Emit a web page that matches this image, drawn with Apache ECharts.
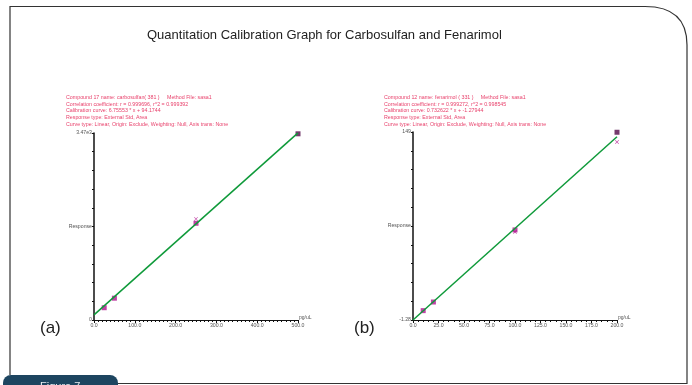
<!DOCTYPE html>
<html>
<head>
<meta charset="utf-8">
<script src="https://cdn.jsdelivr.net/npm/echarts@6/dist/echarts.min.js"></script>
<style>
  html, body { margin: 0; padding: 0; background: #fff; }
  #chart { width: 692px; height: 385px; }
</style>
</head>
<body>
<div id="chart"></div>
<script>
// (a) carbosulfan
const pointsA = [[25, 228], [50, 405], [250, 1795], [500, 3455]];
const excludedA = [[250, 1875]];
const fitA = [[0, 94.2], [500, 3472]];
const infoA = [
  'Compound 17 name: carbosulfan( 381 )     Method File: sasa1',
  'Correlation coefficient: r = 0.999696, r^2 = 0.999392',
  'Calibration curve: 6.75553 * x + 94.1744',
  'Response type: External Std, Area',
  'Curve type: Linear, Origin: Exclude, Weighting: Null, Axis trans: None'
];

// (b) fenarimol
const pointsB = [[10, 6.2], [20, 13.1], [100, 70.7], [200, 148.8]];
const excludedB = [[100, 69.0], [200, 141]];
const fitB = [[0, -1.28], [200, 145.2]];
const infoB = [
  'Compound 12 name: fenarimol ( 331 )     Method File: sasa1',
  'Correlation coefficient: r = 0.999272, r^2 = 0.998545',
  'Calibration curve: 0.732622 * x + -1.27944',
  'Response type: External Std, Area',
  'Curve type: Linear, Origin: Exclude, Weighting: Null, Axis trans: None'
];

const titleText = 'Quantitation Calibration Graph for Carbosulfan and Fenarimol';
const yLabelsA = ['0', 'Response', '3.47e3'];
const yLabelsB = ['-1.28', 'Response', '149'];

const font = '"Liberation Sans", Arial, sans-serif';
const pink = '#e8426c';
const green = '#0f9a3a';
const magenta = '#b0128f';
const dark = '#520a48';
const crossPath = 'path://M0,1 L1,0 L5,4 L9,0 L10,1 L6,5 L10,9 L9,10 L5,6 L1,10 L0,9 L4,5 Z';

function xAxisOpt(gi, max, interval, split) {
  return {
    gridIndex: gi, type: 'value', min: 0, max: max, interval: interval,
    name: 'pg/uL', nameLocation: 'end', nameGap: 1,
    nameTextStyle: { fontSize: 5, color: '#555', fontFamily: font, verticalAlign: 'bottom' },
    axisLine: { lineStyle: { color: '#111', width: 1 } },
    axisTick: { length: 3, lineStyle: { color: '#111', width: 1 } },
    minorTick: { show: true, splitNumber: split, length: 2, lineStyle: { color: '#111', width: 1 } },
    axisLabel: { fontSize: 5.2, color: '#555', fontFamily: font, margin: 3, formatter: v => v.toFixed(1) },
    splitLine: { show: false }
  };
}

function tickAxis(gi, labels) {
  return {
    gridIndex: gi, type: 'value', min: 0, max: 10, interval: 1,
    axisLine: { show: true, lineStyle: { color: '#111', width: 1.5 } },
    axisTick: { show: true, length: 2, lineStyle: { color: '#111', width: 1 } },
    axisLabel: {
      fontSize: 5.2, color: '#555', fontFamily: font, margin: 2,
      formatter: (v) => v === 0 ? labels[0] : v === 5 ? labels[1] : v === 10 ? labels[2] : ''
    },
    splitLine: { show: false }
  };
}

function dataAxis(gi, min, max) {
  return {
    gridIndex: gi, type: 'value', min: min, max: max,
    axisLine: { show: false }, axisTick: { show: false }, axisLabel: { show: false },
    splitLine: { show: false }
  };
}

function infoText(x, lines) {
  return {
    type: 'text', left: x, top: 94,
    style: { text: lines.join('\n'), fill: pink, font: '5.3px ' + font, lineHeight: 6.8 }
  };
}

function seriesFor(xi, yi, pts, excl, fit) {
  return [
    { type: 'line', xAxisIndex: xi, yAxisIndex: yi, data: fit, symbol: 'none',
      lineStyle: { color: green, width: 1.5 }, silent: true },
    { type: 'scatter', xAxisIndex: xi, yAxisIndex: yi, data: excl, symbol: crossPath,
      symbolSize: 4, itemStyle: { color: magenta } },
    { type: 'scatter', xAxisIndex: xi, yAxisIndex: yi, data: pts.slice(0, -1), symbol: 'rect',
      symbolSize: 5, itemStyle: { color: magenta } },
    { type: 'scatter', xAxisIndex: xi, yAxisIndex: yi, data: pts.slice(-1), symbol: 'rect',
      symbolSize: 5, itemStyle: { color: dark } }
  ];
}

const frameStyle = { stroke: '#333', lineWidth: 1.2, fill: null };

const chart = echarts.init(document.getElementById('chart'), null, { renderer: 'canvas' });
chart.setOption({
  animation: false,
  backgroundColor: '#fff',
  textStyle: { fontFamily: font },
  title: {
    text: titleText, left: 142, top: 24,
    textStyle: { fontSize: 13, fontWeight: 'normal', color: '#222', fontFamily: font }
  },
  grid: [
    { left: 94, top: 133, width: 204, height: 187 },
    { left: 413, top: 132, width: 204, height: 188 }
  ],
  xAxis: [
    xAxisOpt(0, 500, 100, 10),
    xAxisOpt(1, 200, 25, 5)
  ],
  yAxis: [
    tickAxis(0, yLabelsA),
    dataAxis(0, 0, 3470),
    tickAxis(1, yLabelsB),
    dataAxis(1, -1.28, 149)
  ],
  series: [
    ...seriesFor(0, 1, pointsA, excludedA, fitA),
    ...seriesFor(1, 3, pointsB, excludedB, fitB)
  ],
  graphic: [
    { type: 'polyline', silent: true,
      shape: { points: [[10, 375], [10, 6.5], [645, 6.5]] }, style: frameStyle },
    { type: 'bezierCurve', silent: true,
      shape: { x1: 645, y1: 6.5, cpx1: 687, cpy1: 6.5, x2: 687, y2: 45 }, style: frameStyle },
    { type: 'polyline', silent: true,
      shape: { points: [[687, 45], [687, 383.5], [118, 383.5]] }, style: frameStyle },
    { type: 'rect', silent: true, shape: { x: 3, y: 375, width: 115, height: 14, r: [8, 8, 0, 0] },
      style: { fill: '#1d4560' } },
    { type: 'text', silent: true, left: 40, top: 381,
      style: { text: 'Figure 7', fill: '#e8eef2', font: '11px ' + font } },
    infoText(66, infoA),
    infoText(384, infoB),
    { type: 'text', left: 40, top: 320, style: { text: '(a)', fill: '#222', font: '17px ' + font } },
    { type: 'text', left: 354, top: 320, style: { text: '(b)', fill: '#222', font: '17px ' + font } }
  ]
});
</script>
</body>
</html>
